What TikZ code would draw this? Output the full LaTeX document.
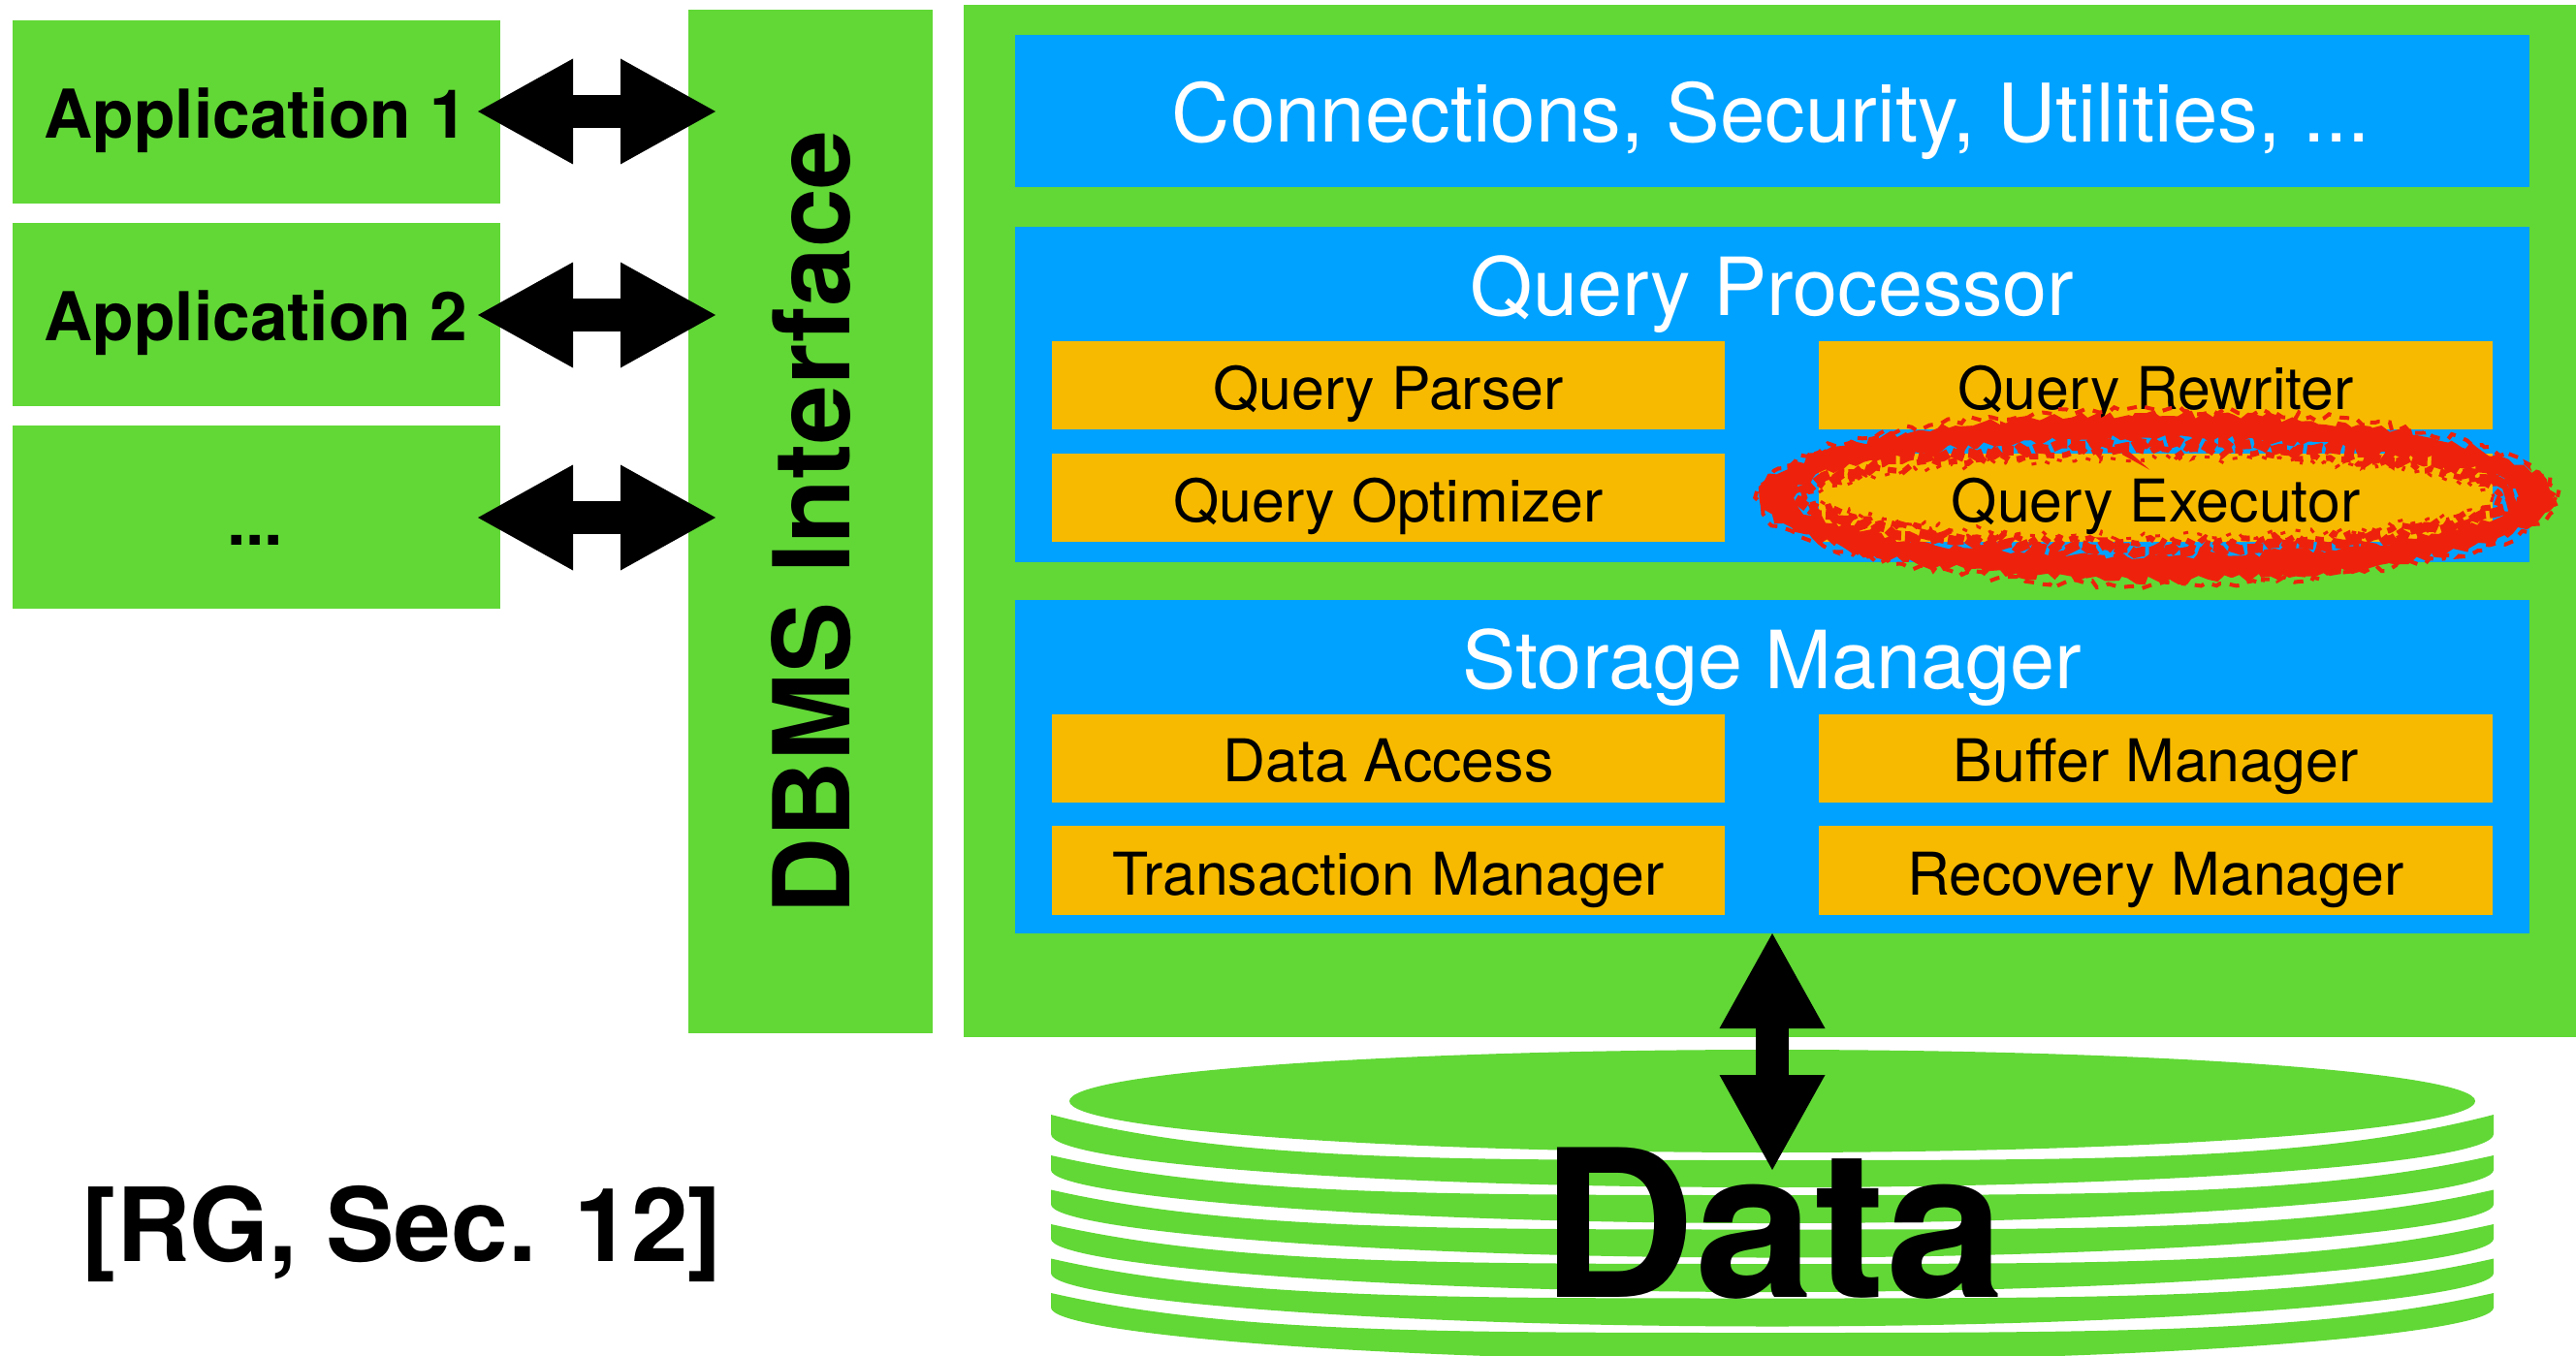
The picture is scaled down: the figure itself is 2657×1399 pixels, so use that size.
\documentclass[tikz,border=0pt]{standalone}
\usepackage{fontspec}
\setmainfont{TeX Gyre Heros}
\usetikzlibrary{arrows.meta,decorations.pathmorphing}
\definecolor{kgreen}{HTML}{61D836}
\definecolor{kblue}{HTML}{00A2FF}
\definecolor{korange}{HTML}{F8BA00}
\definecolor{kred}{HTML}{EE220C}
\pgfmathsetseed{4242}
\newcommand{\fsz}[1]{\fontsize{#1pt}{#1pt}\selectfont}
\tikzset{
  greenbox/.style={fill=kgreen,draw=none},
  bluebox/.style={fill=kblue,draw=none},
  orangebox/.style={fill=korange,draw=none},
  blockarrow/.style={draw=black,line width=34pt,line cap=butt,
    {Triangle[length=98pt,width=109pt,sep=0pt,line width=0pt]}-{Triangle[length=98pt,width=109pt,sep=0pt,line width=0pt]}},
  apptext/.style={anchor=base,font=\bfseries\fsz{69.5},inner sep=0pt,text=black},
  headtext/.style={anchor=base,font=\fsz{82.8},inner sep=0pt,text=white},
  comptext/.style={anchor=base,font=\fsz{60.8},inner sep=0pt,text=black},
  rough/.style={decorate,decoration={random steps,segment length=7pt,amplitude=4.5pt}},
}
\begin{document}
\begin{tikzpicture}[x=1pt,y=-1pt]
\useasboundingbox (0,0) rectangle (2657,1399);
\fill[white] (0,0) rectangle (2657,1399);

% left column
\fill[greenbox] (13,21) rectangle (516,210);
\fill[greenbox] (13,230) rectangle (516,419);
\fill[greenbox] (13,439) rectangle (516,628);
\fill[greenbox] (710,10) rectangle (962,1066);
\node[apptext] (app1) at (264,143) {Application 1};
\node[apptext] (app2) at (264,351) {Application 2};
\node[apptext] (app3) at (263,562) {...};
\node[anchor=base,rotate=90,font=\bfseries\fsz{109.3},inner sep=0pt] (dbms) at (876,539) {DBMS Interface};

% engine
\fill[greenbox] (994,5) rectangle (2657,1070);
\fill[bluebox] (1047,36) rectangle (2609,193);
\fill[bluebox] (1047,234) rectangle (2609,580);
\fill[bluebox] (1047,619) rectangle (2609,963);
\node[headtext,font=\fsz{83.4}] (conn) at (1827,147) {Connections, Security, Utilities, ...};
\node[headtext] (qp) at (1828,325) {Query Processor};
\node[headtext] (sm) at (1828,710) {Storage Manager};

\foreach \nm/\xa/\xb/\ya/\yb/\txt/\bl in {
  parser/1085/1779/352/443/Query Parser/422,
  rewriter/1876/2571/352/443/Query Rewriter/422,
  optimizer/1085/1779/468/559/Query Optimizer/538,
  executor/1876/2571/468/559/Query Executor/538,
  access/1085/1779/737/828/Data Access/806,
  buffer/1876/2571/737/828/Buffer Manager/806,
  trans/1085/1779/852/944/Transaction Manager/923,
  recovery/1876/2571/852/944/Recovery Manager/923}{
  \fill[orangebox] (\xa,\ya) rectangle (\xb,\yb);
  \node[comptext] (\nm) at ({(\xa+\xb)/2},\bl) {\txt};
}

% disk
\fill[kgreen] (1828,1136) ellipse [x radius=725,y radius=53];
\fill[kgreen] (1084,1150) -- (1084,1170)
  .. controls (1084,1200) and (1420,1225) .. (1828,1225)
  .. controls (2236,1225) and (2572,1200) .. (2572,1170) -- (2572,1150)
  .. controls (2392,1197) and (2178,1197) .. (1828,1197)
  .. controls (1478,1197) and (1264,1197) .. (1084,1150) -- cycle;
\foreach \ys in {1192,1227.5,1263,1298.5,1334}{
  \fill[kgreen] (1084,\ys) -- (1084,\ys+15)
    .. controls (1084,\ys+42) and (1420,\ys+70) .. (1828,\ys+70)
    .. controls (2236,\ys+70) and (2572,\ys+42) .. (2572,\ys+15) -- (2572,\ys)
    .. controls (2392,\ys+41) and (2178,\ys+41) .. (1828,\ys+41)
    .. controls (1478,\ys+41) and (1264,\ys+41) .. (1084,\ys) -- cycle;
}
\node[anchor=base,xscale=1.04,transform shape,font=\bfseries\fsz{212},inner sep=0pt] (data) at (1829,1338) {Data};
\node[anchor=base,font=\bfseries\fsz{105.5},inner sep=0pt] (ref) at (415,1301) {[RG, Sec. 12]};

% arrows
\coordinate (a1l) at (493,115); \coordinate (a1r) at (738,115);
\coordinate (a2l) at (493,325); \coordinate (a2r) at (738,325);
\coordinate (a3l) at (493,534); \coordinate (a3r) at (738,534);
\coordinate (dt) at (1828,963); \coordinate (db) at (1828,1207);
\draw[blockarrow] (a1l) -- (a1r);
\draw[blockarrow] (a2l) -- (a2r);
\draw[blockarrow] (a3l) -- (a3r);
\draw[blockarrow] (dt) -- (db);

% red scribble
\coordinate (ring) at (2224,513);
\fill[kred,even odd rule,rough] (ring) ellipse [x radius=409,y radius=86]
      (ring) ellipse [x radius=372,y radius=60];
\draw[kred,line width=10pt,dash pattern=on 16pt off 4pt,rough] (ring) ellipse [x radius=364,y radius=54];
\draw[kred,line width=6pt,dash pattern=on 9pt off 8pt,rough] (ring) ellipse [x radius=354,y radius=46];
\draw[kred,line width=3pt,dash pattern=on 5pt off 11pt,rough] (ring) ellipse [x radius=347,y radius=40];
\draw[kred,line width=4pt,dash pattern=on 10pt off 9pt,rough] (ring) ellipse [x radius=412,y radius=90];
\end{tikzpicture}
\end{document}
